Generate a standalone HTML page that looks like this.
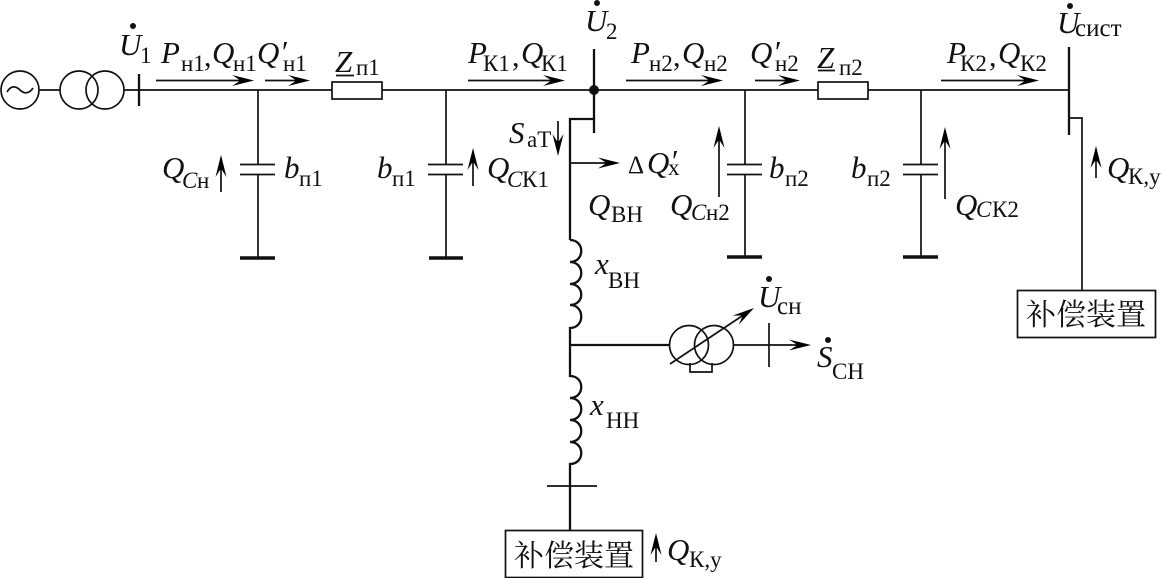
<!DOCTYPE html>
<html><head><meta charset="utf-8">
<style>
html,body{margin:0;padding:0;background:#fff}
svg{display:block}
text{fill:#111;font-family:"Liberation Serif","Noto Serif CJK SC",serif}
.i{font-style:italic;font-size:31px}
.c{font-style:italic;font-size:23px}
.s{font-size:23px}
.m{font-size:25px}
.k{font-size:30px}
.d{font-size:25px}
.h{font-size:30px;font-family:"Noto Serif CJK SC","Liberation Serif",serif}
.l{fill:none;stroke:#111;stroke-width:1.7}
.t{fill:none;stroke:#111;stroke-width:2.3}
.g{fill:none;stroke:#111;stroke-width:3.5}
.a{fill:#111;stroke:none}
</style></head><body>
<svg width="1163" height="578" viewBox="0 0 1163 578" xmlns="http://www.w3.org/2000/svg">
<defs>
<path id="r" d="M0 0L-22 -5.500L-15 -1L-15 1L-22 5.500Z"/>
</defs>
<!-- main line -->
<path class="l" d="M39 90H60M124 90H332M382 90H818M868 90H1069"/>
<circle class="l" cx="20" cy="90" r="19"/>
<path class="l" d="M7 92C11 85 16 86 20 90C24 94 29 94 33 88"/>
<circle class="l" cx="79" cy="90" r="19"/>
<circle class="l" cx="105" cy="90" r="19"/>
<path class="t" d="M139 74V106"/>
<rect class="l" x="332" y="82" width="50" height="17"/>
<rect class="l" x="818" y="82" width="50" height="17"/>
<!-- shunts -->
<path class="l" d="M258 90V164M258 175V258M240 164.500H275M240 174.500H275"/>
<path class="g" d="M240 258H275"/>
<path class="l" d="M446 90V164M446 175V258M428 164.500H463M428 174.500H463"/>
<path class="g" d="M429 258H463"/>
<path class="l" d="M745 90V164M745 175V257M727 164.500H762M727 174.500H762"/>
<path class="g" d="M727 257H762"/>
<path class="l" d="M921 90V164M921 175V257M903 164.500H938M903 174.500H938"/>
<path class="g" d="M903 257H938"/>
<!-- buses -->
<path class="t" d="M594 49V133"/>
<circle class="a" cx="594" cy="90" r="5"/>
<path class="t" d="M594 119H570V240"/>
<path class="t" d="M1069 47V135"/>
<path class="l" d="M1069 118H1082V290"/>
<rect class="l" x="1017.500" y="290.500" width="138" height="47"/>
<text class="h" x="1026" y="325">补偿装置</text>
<!-- coils -->
<path class="t" d="M570 240C585 240 585 262 570 262C585 262 585 284 570 284C585 284 585 305 570 305C585 305 585 328 570 328V376C585 376 585 398 570 398C585 398 585 420 570 420C585 420 585 442 570 442C585 442 585 464 570 464V530"/>
<path class="l" d="M547 486H597"/>
<rect class="l" x="505.500" y="530.500" width="137" height="47"/>
<text class="h" x="514" y="566">补偿装置</text>
<!-- aux transformer -->
<path class="t" d="M570 345H669"/>
<circle class="l" cx="689" cy="345" r="19.500"/>
<circle class="l" cx="714" cy="345" r="19.500"/>
<path class="l" d="M690 363V372H712V363"/>
<path class="l" d="M670 364L745 314"/>
<use href="#r" transform="translate(754 308) rotate(-33.700)"/>
<path class="l" d="M734 345H800"/>
<use href="#r" transform="translate(811 345)"/>
<path class="l" d="M769 323V367"/>
<!-- flow arrows horizontal -->
<path class="l" d="M156 80.500H245M265 80.500H300M468 80.500H555M626 80.500H715M755 80.500H792M941 80.500H1030"/>
<use href="#r" transform="translate(254 80.500)"/>
<use href="#r" transform="translate(310 80.500)"/>
<use href="#r" transform="translate(565 80.500)"/>
<use href="#r" transform="translate(723 80.500)"/>
<use href="#r" transform="translate(800 80.500)"/>
<use href="#r" transform="translate(1039 80.500)"/>
<path class="l" d="M570 163H610"/>
<use href="#r" transform="translate(620 163)"/>
<!-- vertical arrows -->
<path class="l" d="M221 170V192M473 163V186M719 141V197M945 142V199M1096 161V178M656 548V562M558 121V141"/>
<use href="#r" transform="translate(221 155) rotate(-90)"/>
<use href="#r" transform="translate(473 148) rotate(-90)"/>
<use href="#r" transform="translate(719 126) rotate(-90)"/>
<use href="#r" transform="translate(945 127) rotate(-90)"/>
<use href="#r" transform="translate(1096 146) rotate(-90)"/>
<use href="#r" transform="translate(656 533) rotate(-90)"/>
<use href="#r" transform="translate(558 156) rotate(90)"/>
<!-- voltage dots -->
<circle class="a" cx="133" cy="26" r="3"/>
<circle class="a" cx="597" cy="3" r="3"/>
<circle class="a" cx="1070" cy="6" r="3"/>
<circle class="a" cx="769" cy="279" r="3"/>
<circle class="a" cx="828" cy="340" r="3"/>
<!-- labels -->
<text class="i" x="119" y="55">U</text><text class="s" x="140" y="63">1</text>
<text class="i" x="161" y="63">P</text><text class="s" x="181" y="71">н1</text><text class="k" x="204" y="66">,</text>
<text class="i" x="212" y="63">Q</text><text class="s" x="233" y="71">н1</text>
<text class="i" x="257" y="63">Q</text><text class="i" x="280" y="62">′</text><text class="s" x="283" y="71">н1</text>
<text class="i" x="335" y="72">Z</text><path class="l" d="M336 75.500H354"/><text class="s" x="356" y="75">п1</text>
<text class="i" x="162" y="178">Q</text><text class="c" x="182" y="188">C</text><text class="s" x="197" y="188">н</text>
<text class="i" x="284" y="178">b</text><text class="s" x="299" y="186">п1</text>
<text class="i" x="377" y="178">b</text><text class="s" x="392" y="186">п1</text>
<text class="i" x="487" y="178">Q</text><text class="c" x="507" y="187">C</text><text class="s" x="522" y="187">К1</text>
<text class="i" x="585" y="31">U</text><text class="s" x="606" y="39">2</text>
<text class="i" x="468" y="63">P</text><text class="s" x="483" y="71">К1</text><text class="k" x="512" y="66">,</text>
<text class="i" x="521" y="63">Q</text><text class="s" x="541" y="71">К1</text>
<text class="i" x="509" y="143">S</text><text class="s" x="527" y="147">аТ</text>
<text class="d" x="628" y="173">Δ</text><text class="i" x="647" y="173">Q</text><text class="i" x="670" y="171">′</text><text class="s" x="668" y="175">х</text>
<text class="i" x="588" y="215">Q</text><text class="s" x="611" y="222">ВН</text>
<text class="i" x="631" y="63">P</text><text class="s" x="649" y="71">н2</text><text class="k" x="673" y="66">,</text>
<text class="i" x="682" y="63">Q</text><text class="s" x="704" y="71">н2</text>
<text class="i" x="750" y="63">Q</text><text class="i" x="773" y="62">′</text><text class="s" x="775" y="71">н2</text>
<text class="i" x="670" y="215">Q</text><text class="c" x="691" y="220">C</text><text class="s" x="706" y="220">н2</text>
<text class="i" x="769" y="178">b</text><text class="s" x="785" y="186">п2</text>
<text class="i" x="817" y="68">Z</text><path class="l" d="M818 70.500H835"/><text class="s" x="839" y="75">п2</text>
<text class="i" x="851" y="178">b</text><text class="s" x="867" y="186">п2</text>
<text class="i" x="955" y="215">Q</text><text class="c" x="976" y="217">C</text><text class="s" x="992" y="217">К2</text>
<text class="i" x="947" y="63">P</text><text class="s" x="960" y="71">К2</text><text class="k" x="989" y="66">,</text>
<text class="i" x="998" y="63">Q</text><text class="s" x="1020" y="71">К2</text>
<text class="i" x="1057" y="33">U</text><text class="m" x="1075" y="36">сист</text>
<text class="i" x="1107" y="178">Q</text><text class="s" x="1128" y="184">К,у</text>
<text class="i" x="595" y="274">x</text><text class="s" x="608" y="288">ВН</text>
<text class="i" x="590" y="415">x</text><text class="s" x="606" y="428">НН</text>
<text class="i" x="758" y="307">U</text><text class="m" x="777" y="314">сн</text>
<text class="i" x="817" y="367">S</text><text class="s" x="832" y="379">СН</text>
<text class="i" x="667" y="560">Q</text><text class="s" x="689" y="567">К,у</text>
</svg>
</body></html>
